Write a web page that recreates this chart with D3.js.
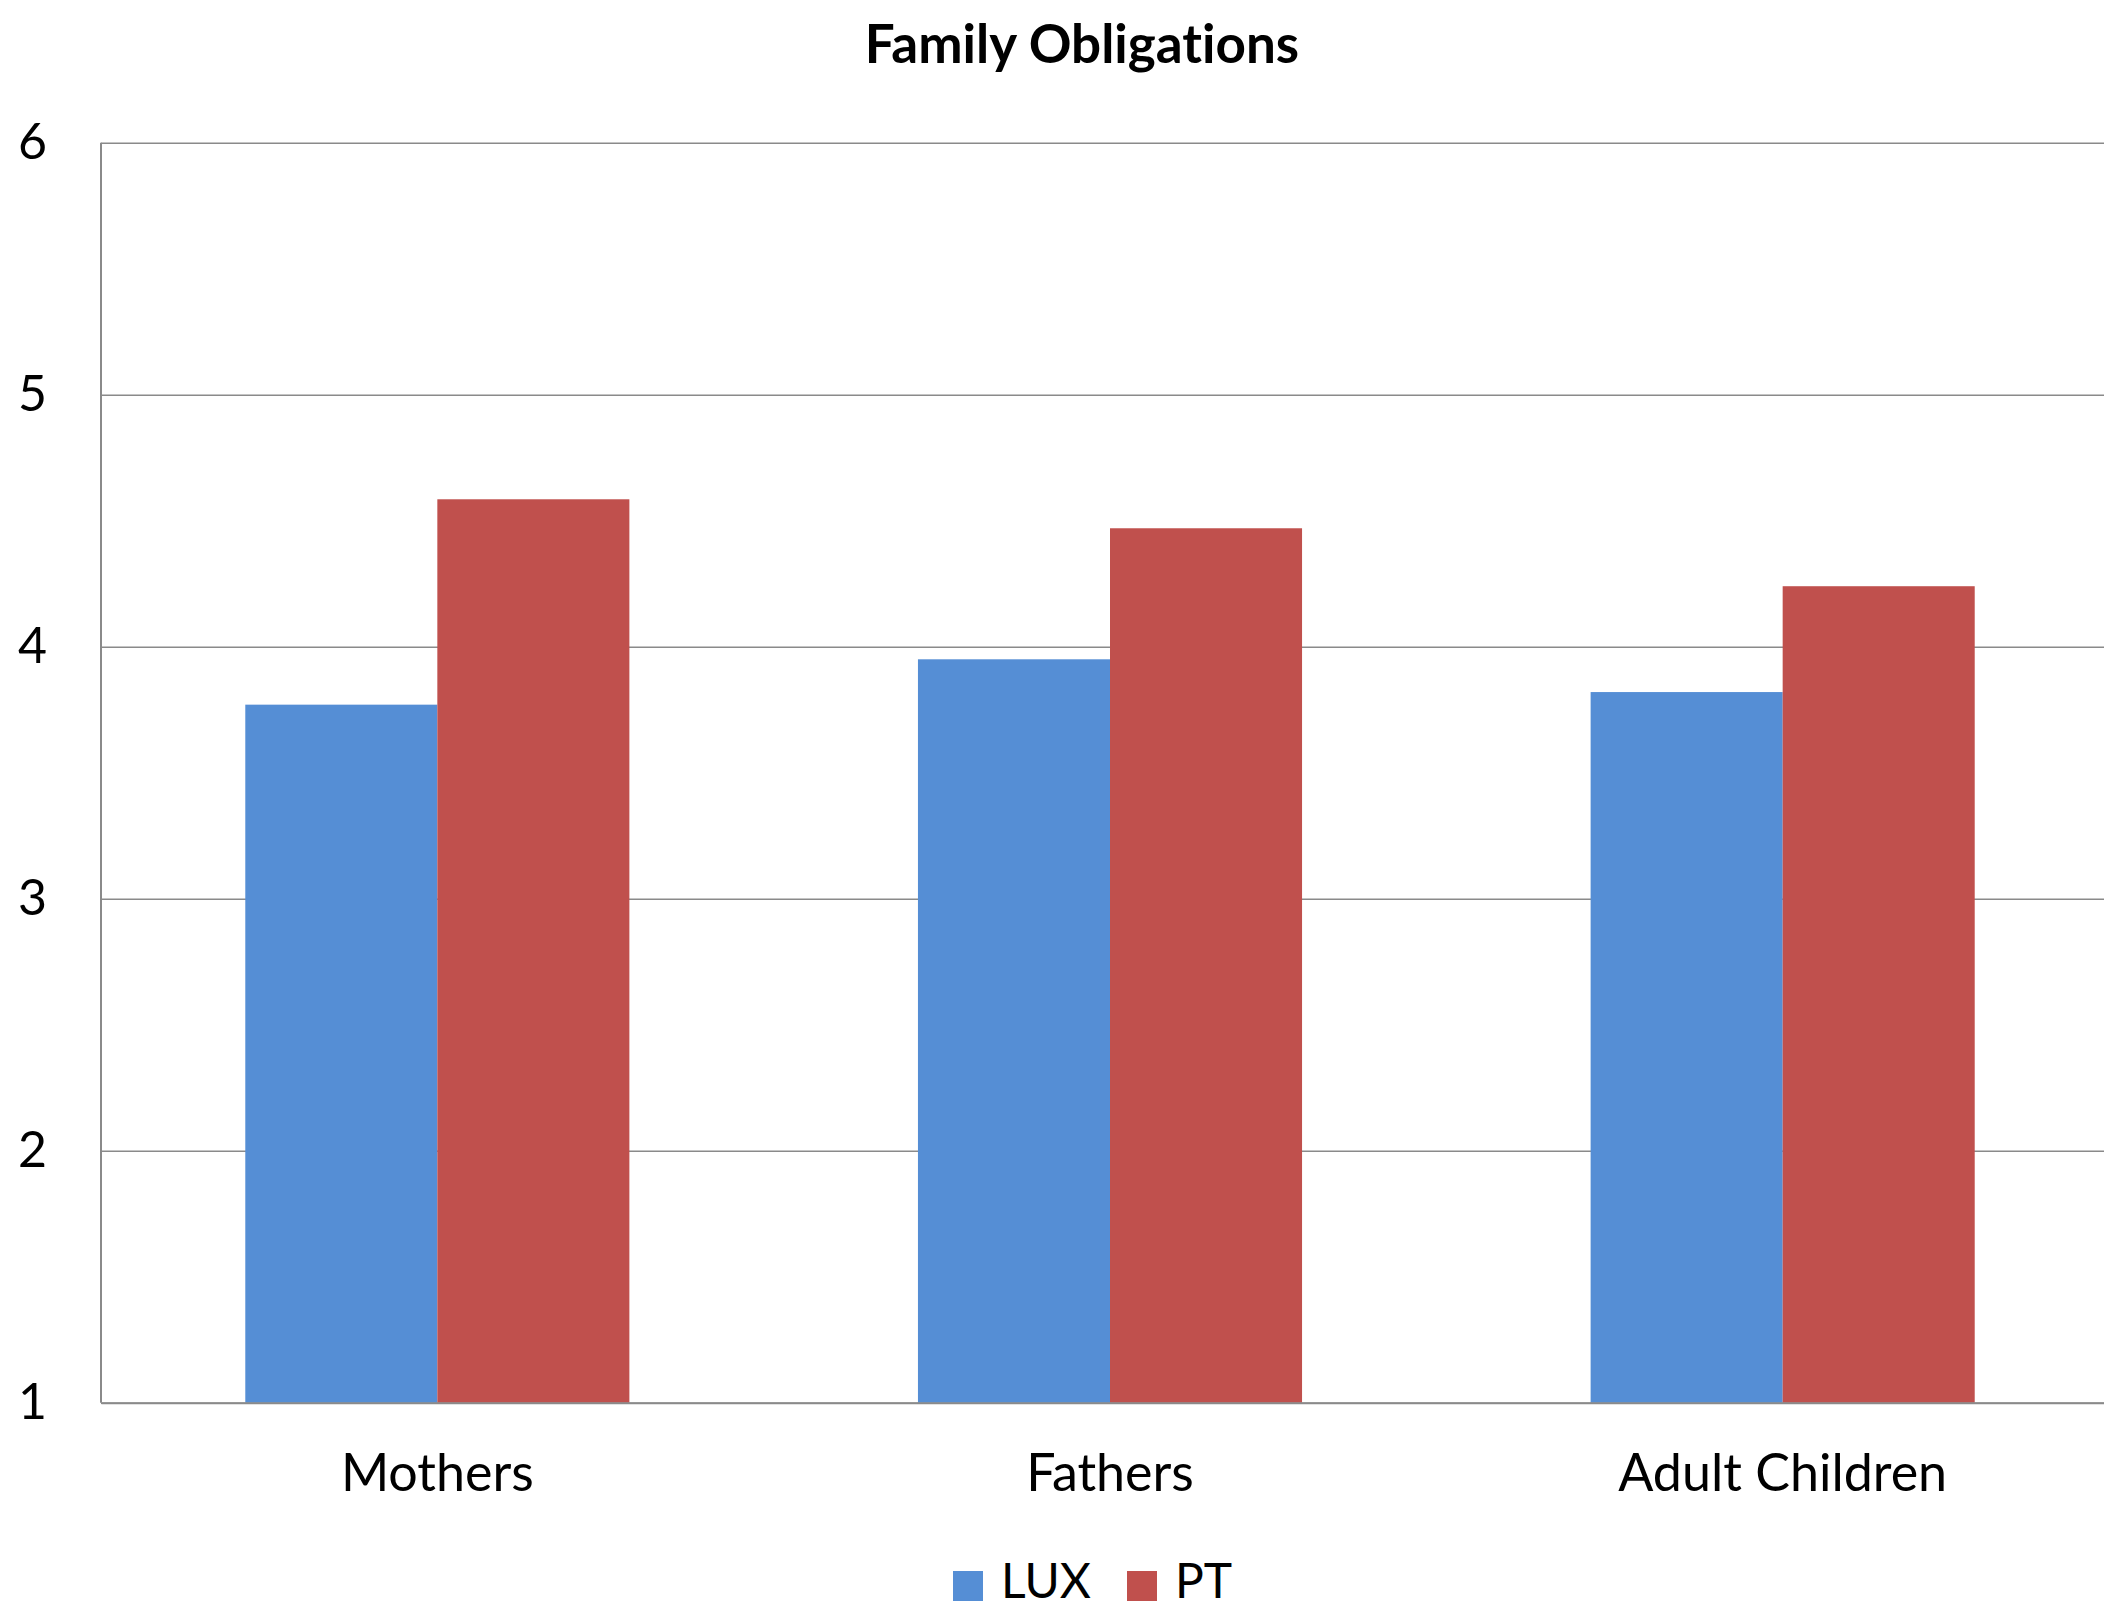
<!DOCTYPE html>
<html>
<head>
<meta charset="utf-8">
<script src="https://d3js.org/d3.v7.min.js"></script>
<style>
  body { margin: 0; background: #fff; }
  text { font-family: Lato, "Open Sans", sans-serif; fill: #000; font-variant-ligatures: none; }
</style>
</head>
<body>
<div id="chart"></div>
<script>
// chart data
var categories = ["Mothers", "Fathers", "Adult Children"];
var series = ["LUX", "PT"];
var luxValues = [3.77, 3.95, 3.82];
var ptValues = [4.585, 4.47, 4.24];
var yTicks = [1, 2, 3, 4, 5, 6];
var colors = ["#558ED5", "#C0504D"];

var width = 2104, height = 1610;
var plotLeft = 101, plotRight = 2119, plotTop = 142.7, plotBottom = 1402.7;

var svg = d3.select("#chart")
	.append("svg")
	.attr("width", width)
	.attr("height", height);

var y = d3.scaleLinear().domain([1, 6]).range([plotBottom, plotTop]);

var x = d3.scaleBand()
	.domain(categories)
	.range([plotLeft, plotRight])
	.paddingInner(0.429)
	.paddingOuter(0.2145);

var xSub = d3.scaleBand().domain(series).range([0, x.bandwidth()]);

// gridlines + y labels
var yAxis = svg.append("g")
	.attr("transform", "translate(" + plotLeft + ",0)")
	.call(d3.axisLeft(y).tickValues(yTicks).tickSizeInner(-(plotRight - plotLeft)).tickSizeOuter(0).tickPadding(54).tickFormat(d3.format("d")));

yAxis.select(".domain").remove();
yAxis.selectAll(".tick line").attr("stroke", "#8a8a8a").attr("stroke-width", 1.5);
yAxis.selectAll(".tick text")
	.attr("font-size", "50px")
	.attr("font-family", "Lato")
	.attr("fill", "#000");

// bars
var rows = categories.map(function(c, i) {
	return { cat: c, vals: [luxValues[i], ptValues[i]] };
});

var groups = svg.selectAll(".grp")
	.data(rows)
	.enter()
	.append("g")
	.attr("transform", function(d) { return "translate(" + x(d.cat) + ",0)"; });

groups.selectAll("rect")
	.data(function(d) { return d.vals.map(function(v, j) { return { s: series[j], v: v, j: j }; }); })
	.enter()
	.append("rect")
	.attr("x", function(d) { return xSub(d.s); })
	.attr("y", function(d) { return y(d.v); })
	.attr("width", xSub.bandwidth())
	.attr("height", function(d) { return y(1) - y(d.v); })
	.attr("fill", function(d) { return colors[d.j]; });

// axis lines
svg.append("line")
	.attr("x1", plotLeft).attr("x2", plotLeft)
	.attr("y1", plotTop).attr("y2", plotBottom)
	.attr("stroke", "#8a8a8a").attr("stroke-width", 2);

var xAxis = svg.append("g")
	.attr("transform", "translate(0," + plotBottom + ")")
	.call(d3.axisBottom(x).tickSize(0).tickPadding(0));

xAxis.select(".domain").attr("stroke", "#8a8a8a").attr("stroke-width", 2);
xAxis.selectAll(".tick text")
	.attr("y", 88)
	.attr("dy", 0)
	.attr("font-size", "52px")
	.attr("font-family", "Lato")
	.attr("fill", "#000");

// title
svg.append("text")
	.attr("x", 1082)
	.attr("y", 63)
	.attr("text-anchor", "middle")
	.attr("font-size", "53px")
	.attr("font-weight", "bold")
	.text("Family Obligations");

// legend
var legendX = [953, 1127];
var legend = svg.selectAll(".legend")
	.data(series)
	.enter()
	.append("g")
	.attr("transform", function(d, i) { return "translate(" + legendX[i] + ",0)"; });

legend.append("rect")
	.attr("x", 0)
	.attr("y", 1571)
	.attr("width", 30)
	.attr("height", 30)
	.attr("fill", function(d, i) { return colors[i]; });

legend.append("text")
	.attr("x", 48)
	.attr("y", 1598)
	.attr("font-size", "48px")
	.text(function(d) { return d; });
</script>
</body>
</html>
